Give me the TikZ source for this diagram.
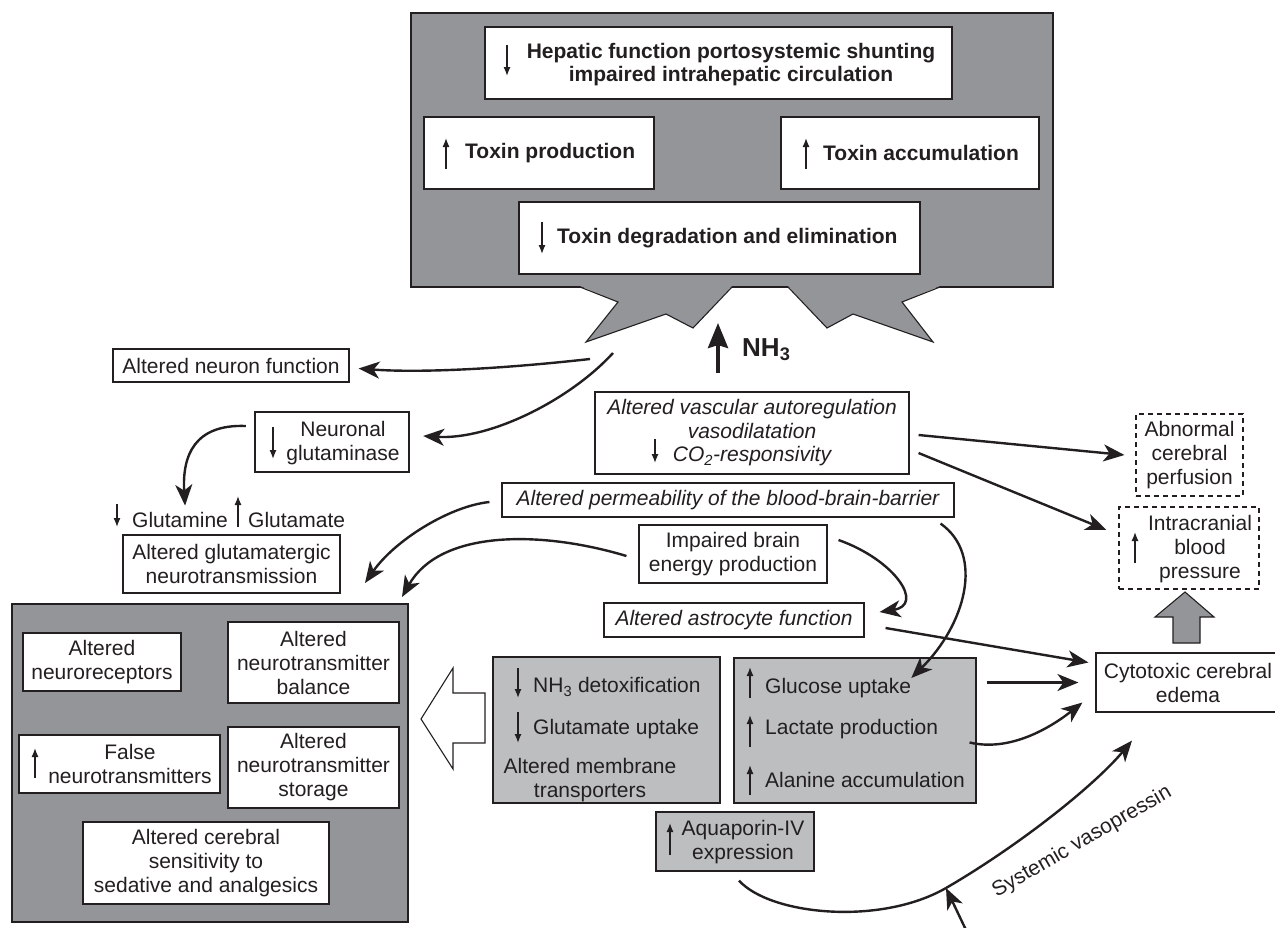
\documentclass[tikz,border=0pt]{standalone}
\usepackage{fontspec}
\setmainfont{Liberation Sans}
\usetikzlibrary{arrows.meta,calc}
\definecolor{ink}{HTML}{231F20}
\definecolor{dgray}{HTML}{939598}
\definecolor{lgray}{HTML}{BCBEC0}
\begin{document}
\begin{tikzpicture}[x=1pt,y=-1pt,
  every node/.style={font=\fontsize{21}{24}\selectfont, text=ink, inner sep=0pt},
  box/.style={draw=ink, line width=1.1pt, fill=white, align=center},
  graybox/.style={draw=ink, line width=1.1pt, fill=lgray, align=center},
  dashbox/.style={draw=ink, line width=1.1pt, dash pattern=on 5pt off 4pt, align=center},
  bigbox/.style={draw=ink, line width=1.2pt, fill=dgray},
  bold/.style={font=\bfseries\fontsize{21}{23}\selectfont},
  ital/.style={font=\itshape\fontsize{21}{23.5}\selectfont},
  glyph/.style={draw=ink, line width=1.3pt, -{Latex[length=9pt,width=7pt]}},
  conn/.style={draw=ink, line width=2.4pt, -{Stealth[length=21pt,width=17pt,inset=6pt]}}
]
\useasboundingbox (0,0) rectangle (1275,927);

% ---------- top liver box ----------
\node[bigbox, minimum width=642, minimum height=274] (liver) at (732,150) {};
\fill[dgray] (580,286) -- (618,302) -- (586,342) -- (666,314) -- (693,328) -- (732,286) -- cycle;
\draw[ink, line width=1.1pt, line join=miter] (580,287) -- (618,302) -- (586,342) -- (666,314) -- (693,328) -- (732,287);
\fill[dgray] (788,286) -- (827,328) -- (853,314) -- (933,342) -- (902,302) -- (940,286) -- cycle;
\draw[ink, line width=1.1pt, line join=miter] (788,287) -- (827,328) -- (853,314) -- (933,342) -- (902,302) -- (940,287);

\node[box, minimum width=467, minimum height=72] (hep) at (718.5,63) {};
\node[bold, align=center] (hepT) at (731,64.5) {Hepatic function portosystemic shunting\\impaired intrahepatic circulation};
\draw[glyph] (507,45) -- (507,76);

\node[box, minimum width=230, minimum height=72] (tprod) at (539,153) {};
\node[bold, anchor=west] (tprodT) at (465,153) {Toxin production};
\draw[glyph] (446,169) -- (446,138);

\node[box, minimum width=258, minimum height=72] (tacc) at (910,153) {};
\node[bold, anchor=west] (taccT) at (823,153) {Toxin accumulation};
\draw[glyph] (806,169) -- (806,138);

\node[box, minimum width=401, minimum height=72] (tdeg) at (719.5,238) {};
\node[bold, anchor=west] (tdegT) at (557,238) {Toxin degradation and elimination};
\draw[glyph] (542,222) -- (542,254);

% ---------- NH3 ----------
\coordinate (nha) at (718,373);
\coordinate (nhb) at (718,323);
\draw[draw=ink, line width=4pt, -{Stealth[length=25pt,width=20pt,inset=3pt]}] (nha) -- (nhb);
\node[font=\bfseries\fontsize{26}{30}\selectfont, anchor=west] (nh3) at (742,350) {NH\textsubscript{3}};

% ---------- left column ----------
\node[box, minimum width=236, minimum height=33] (neuron) at (231,365.5) {Altered neuron function};
\node[box, line width=2.4pt, minimum width=154, minimum height=60] (glut) at (332,442) {};
\node[align=center] (glutT) at (343,443.5) {Neuronal\\glutaminase};
\draw[glyph] (273,427) -- (273,459);

\node[anchor=base west] (gln) at (132,527) {Glutamine};
\node[anchor=base west] (glu) at (248,527) {Glutamate};
\draw[glyph] (117,504) -- (117,527);
\draw[glyph] (238,527) -- (238,496);
\node[box, minimum width=217, minimum height=58] (gltm) at (231.5,564) {Altered glutamatergic\\neurotransmission};

% big left box
\node[bigbox, minimum width=396, minimum height=318] (nt) at (210,763) {};
\node[box, minimum width=158, minimum height=58] (nrec) at (102,662) {Altered\\neuroreceptors};
\node[box, minimum width=171, minimum height=81] (nbal) at (313.5,662.5) {Altered\\neurotransmitter\\balance};
\node[box, minimum width=201, minimum height=58] (fals) at (119.5,764) {};
\node[align=center] (falsT) at (130,764) {False\\neurotransmitters};
\draw[glyph] (35,778) -- (35,748);
\node[box, minimum width=171, minimum height=81] (nsto) at (313.5,767.5) {Altered\\neurotransmitter\\storage};
\node[box, minimum width=246, minimum height=82] (sens) at (206,863) {Altered cerebral\\sensitivity to\\sedative and analgesics};

% hollow arrow
\draw[ink, line width=1.1pt, fill=white, line join=miter] (485,693) -- (453,693) -- (453,668) -- (421,719) -- (453,769) -- (453,743) -- (485,743) -- cycle;

% ---------- middle column ----------
\node[box, ital, minimum width=314, minimum height=82] (vasc) at (752,433) {Altered vascular autoregulation\\vasodilatation\\CO\textsubscript{2}-responsivity};
\draw[glyph] (655,439) -- (655,463);
\node[box, ital, minimum width=452, minimum height=34] (perm) at (728,500) {Altered permeability of the blood-brain-barrier};
\node[box, minimum width=188, minimum height=58] (imp) at (733,554) {Impaired brain\\energy production};
\node[box, ital, minimum width=260, minimum height=34] (astro) at (734,620) {Altered astrocyte function};

\node[graybox, minimum width=227, minimum height=146] (detox) at (606.5,730) {};
\node[anchor=west] (detoxT) at (533,687) {NH\textsubscript{3} detoxification};
\node[anchor=west] (gupT) at (533,729) {Glutamate uptake};
\node[align=center] (membT) at (590,780) {Altered membrane\\transporters};
\draw[glyph] (518,668) -- (518,698);
\draw[glyph] (518,712) -- (518,743);

\node[graybox, minimum width=242, minimum height=145] (glubox) at (855,730.5) {};
\node[anchor=west] (gluT) at (765,688) {Glucose uptake};
\node[anchor=west] (lacT) at (765,729) {Lactate production};
\node[anchor=west] (alaT) at (765,780) {Alanine accumulation};
\draw[glyph] (750,698) -- (750,667);
\draw[glyph] (750,747) -- (750,715);
\draw[glyph] (750,795) -- (750,765);

\node[graybox, minimum width=158, minimum height=59] (aqua) at (735,841.5) {};
\node[align=center] (aquaT) at (743,842) {Aquaporin-IV\\expression};
\draw[glyph] (670,855) -- (670,823);

% ---------- right column ----------
\node[dashbox, minimum width=107, minimum height=82] (abn) at (1189.5,455) {Abnormal\\cerebral\\perfusion};
\node[dashbox, minimum width=140, minimum height=82] (intra) at (1189,548) {};
\node[align=center] (intraT) at (1200,549) {Intracranial\\blood\\pressure};
\draw[glyph] (1135,563) -- (1135,532);
\node[box, minimum width=184, minimum height=59] (cyto) at (1188,682.5) {Cytotoxic cerebral\\edema};
\draw[ink, line width=1.1pt, fill=dgray, line join=miter] (1173,643) -- (1173,617) -- (1155,617) -- (1185,592) -- (1214,617) -- (1200,617) -- (1200,643) -- cycle;

% ---------- connectors ----------
\coordinate (c1) at (590,359);
\coordinate (c2) at (613,353);
\draw[conn] (c1) .. controls (500,369) and (420,373) .. ($(neuron.east)+(9,3)$);
\draw[conn] (c2) .. controls (570,400) and (490,440) .. ($(glut.east)+(13,-6)$);
\draw[conn] ($(glut.west)+(-8,-16)$) .. controls (195,424) and (182,455) .. ($(gln.north)+(5,-6)$);

\coordinate (t4) at (365,583);
\coordinate (t5) at (402,597);
\draw[conn] ($(perm.west)+(-12,2)$) .. controls (450,506) and (395,540) .. (t4);
\draw[conn] ($(imp.west)+(-12,2)$) .. controls (540,530) and (440,530) .. (t5);

\draw[conn] ($(vasc.east)+(9,2)$) -- ($(abn.west)+(-11,0)$);
\draw[conn] ($(vasc.east)+(9,20)$) -- ($(intra.west)+(-12,-18)$);
\draw[conn] ($(perm.south east)+(-14,6)$) .. controls (985,555) and (965,625) .. (gluT.north east);
\draw[conn] ($(imp.east)+(11,-14)$) .. controls (895,560) and (925,605) .. ($(astro.east)+(15,-8)$);
\draw[conn] ($(astro.east)+(21,8)$) -- ($(cyto.west)+(-7,-20)$);
\draw[conn] ($(glubox.east)+(10,-48)$) -- ($(cyto.west)+(-17,0)$);
\draw[conn] ($(glubox.east)+(-7,12)$) .. controls (1010,752) and (1050,728) .. ($(cyto.west)+(-13,20)$);

\coordinate (m) at (946,888);
\coordinate (sv) at (966,930);
\draw[draw=ink, line width=2.4pt] ($(aqua.south)+(4,9)$) .. controls (770,915) and (880,926) .. (m);
\draw[conn] (m) .. controls (1020,845) and (1095,785) .. ($(cyto.south)+(-56,28)$);
\draw[conn] (sv) -- (m);
\node[rotate=30] (svl) at (1082,842) {Systemic vasopressin};
\end{tikzpicture}
\end{document}
